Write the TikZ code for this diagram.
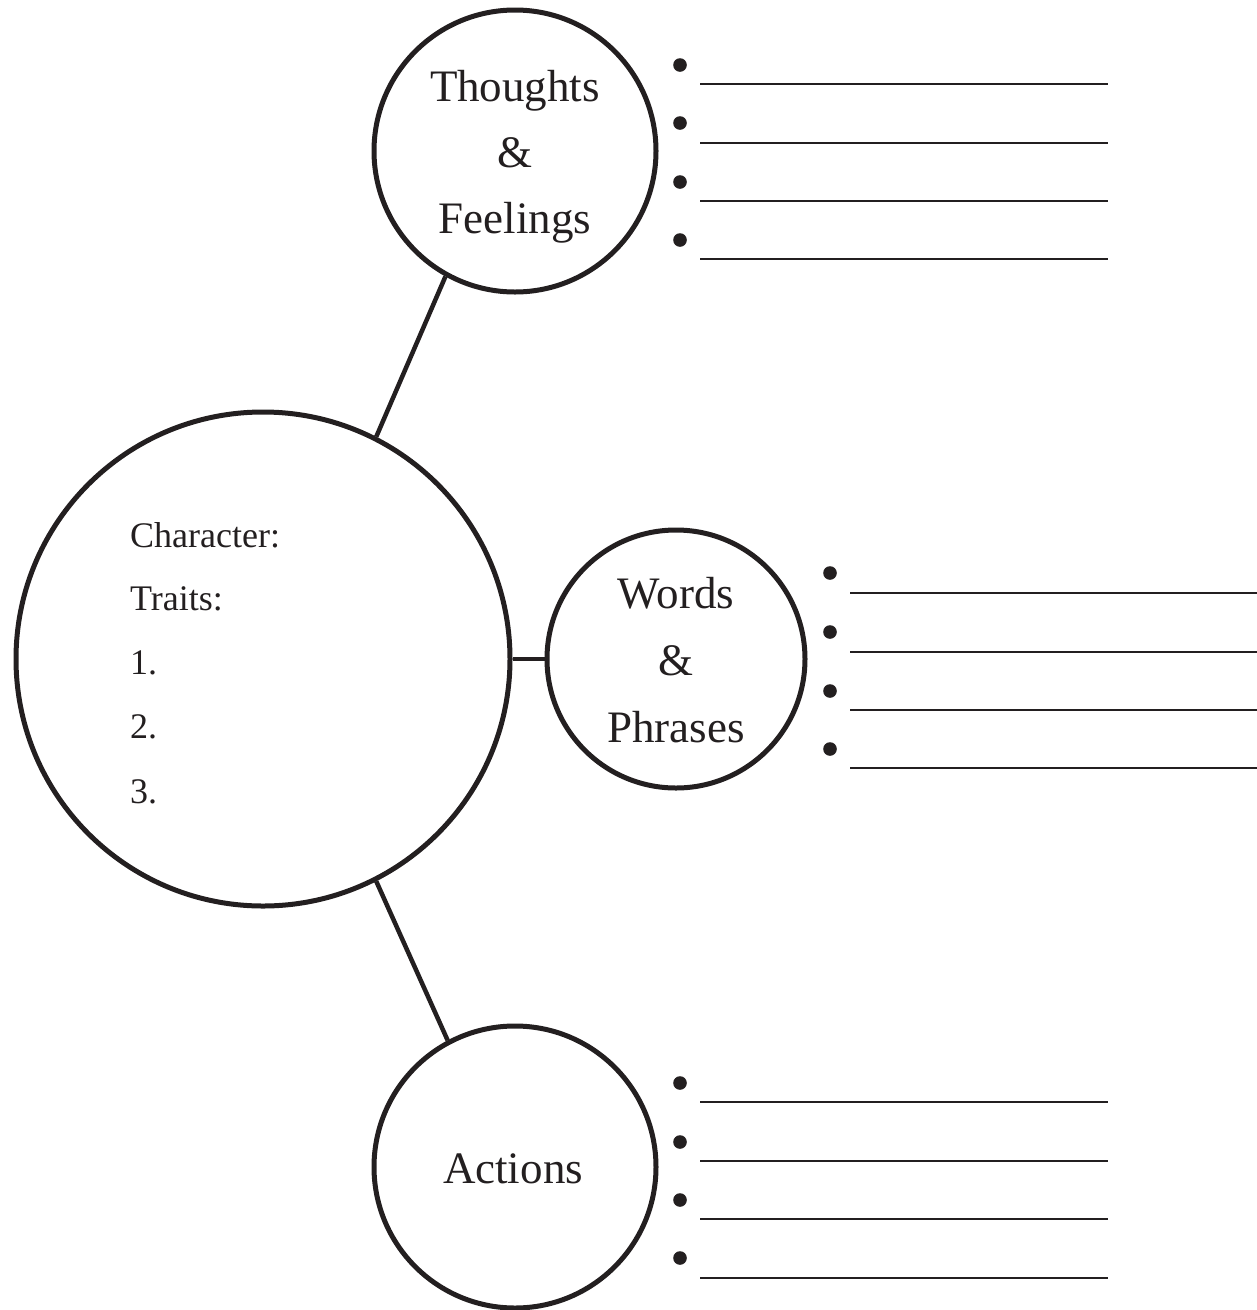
\documentclass[tikz,border=0pt]{standalone}
\usepackage{fontspec}
\setmainfont{Liberation Serif}
\definecolor{ink}{HTML}{231F20}
\begin{document}
\begin{tikzpicture}[x=1pt,y=-1pt,
  bubble/.style={circle,draw=ink,line width=5pt,inner sep=0pt},
  link/.style={draw=ink,line width=4.5pt},
  bigtxt/.style={anchor=base,inner sep=0pt,text=ink,font=\fontsize{45}{54}\selectfont},
  smalltxt/.style={anchor=base west,inner sep=0pt,text=ink,font=\fontsize{36}{43}\selectfont},
  rule/.style={draw=ink,line width=2.6pt},
  dot/.style={fill=ink}]
\useasboundingbox (0,0) rectangle (1257,1310);
% circles
\node[bubble,minimum size=494pt] (big) at (263,659) {};
\node[bubble,minimum size=282pt] (top) at (515,151) {};
\node[bubble,minimum size=258pt] (mid) at (676,659) {};
\node[bubble,minimum size=282pt] (bot) at (515,1167) {};
% connectors
\draw[link] (big.63.6) -- (top.241.6);
\draw[link] (big.east) -- (mid.west);
\draw[link] (big.-63.6) -- (bot.118.4);
% texts
\node[bigtxt] (t1) at (515,101) {Thoughts};
\node[bigtxt] (t2) at (515,167) {\&};
\node[bigtxt] (t3) at (515,233) {Feelings};
\node[bigtxt] (w1) at (676,608) {Words};
\node[bigtxt] (w2) at (676,675) {\&};
\node[bigtxt] (w3) at (676,742) {Phrases};
\node[bigtxt] (a1) at (513,1183) {Actions};
\node[smalltxt] (c1) at (130,547) {Character:};
\node[smalltxt] (c2) at (130,610) {Traits:};
\node[smalltxt] (c3) at (130,674) {1.};
\node[smalltxt] (c4) at (130,738) {2.};
\node[smalltxt] (c5) at (130,803) {3.};
% bullet lists
\foreach \by/\ly in {65/84,123/143,182/201,240/259}{
  \fill[dot] (680,\by) circle (6.8pt);
  \draw[rule] (700,\ly) -- (1108,\ly);
}
\foreach \by/\ly in {573/593,632/652,691/710,749/768}{
  \fill[dot] (830,\by) circle (6.8pt);
  \draw[rule] (850,\ly) -- (1257,\ly);
}
\foreach \by/\ly in {1083/1102,1142/1161,1200/1219,1258/1278}{
  \fill[dot] (680,\by) circle (6.8pt);
  \draw[rule] (700,\ly) -- (1108,\ly);
}
\end{tikzpicture}
\end{document}
